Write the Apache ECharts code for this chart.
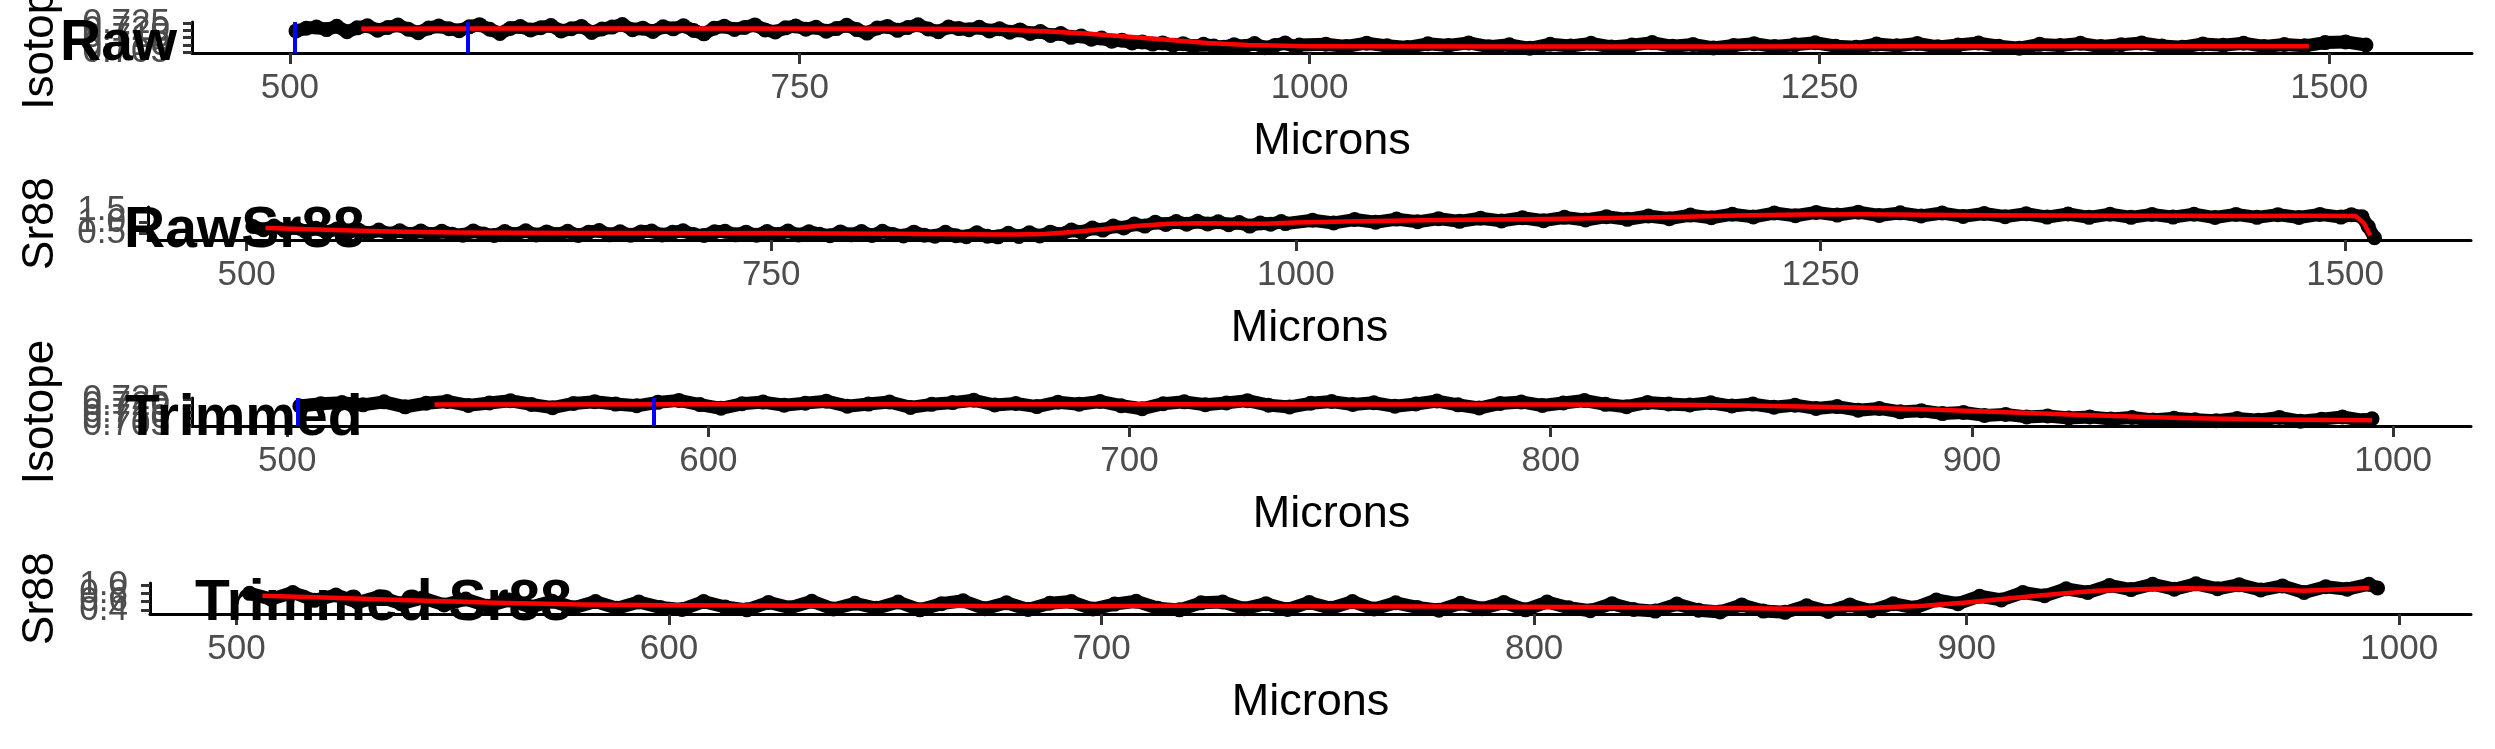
<!DOCTYPE html>
<html><head><meta charset="utf-8">
<script src="https://cdn.jsdelivr.net/npm/echarts@6/dist/echarts.min.js"></script>
<style>html,body{margin:0;padding:0;background:#fff}#c{width:2495px;height:749px}</style>
</head><body><div id="c"></div>
<script>
// ---------- DATA ----------
const isoMicrons = [
503,508,513,518,523,528,533,538,543,548,
553,558,563,568,573,578,583,588,593,598,
603,608,613,618,623,628,633,638,643,648,
653,658,663,668,673,678,683,688,693,698,
703,708,713,718,723,728,733,738,743,748,
753,758,763,768,773,778,783,788,793,798,
803,808,813,818,823,828,833,838,843,848,
853,858,863,868,873,878,883,888,893,898,
903,908,913,918,923,928,933,938,943,948,
953,958,963,968,973,978,983,988,993,995,
1008,1018,1028,1038,1048,1058,1068,1078,1088,1098,
1108,1118,1128,1138,1148,1158,1168,1178,1188,1198,
1208,1218,1228,1238,1248,1258,1268,1278,1288,1298,
1308,1318,1328,1338,1348,1358,1368,1378,1388,1398,
1408,1418,1428,1438,1448,1458,1468,1478,1488,1498,
1508,1518];
const isoValues = [
0.7196,0.7214,0.7222,0.7205,0.7228,0.7190,0.7217,0.7231,0.7201,0.7219,
0.7236,0.7208,0.7184,0.7216,0.7229,0.7211,0.7198,0.7224,0.7239,0.7207,
0.7179,0.7213,0.7226,0.7202,0.7218,0.7233,0.7195,0.7211,0.7227,0.7186,
0.7209,0.7222,0.7240,0.7204,0.7215,0.7192,0.7225,0.7210,0.7231,0.7199,
0.7176,0.7214,0.7228,0.7206,0.7220,0.7237,0.7203,0.7189,0.7217,0.7230,
0.7208,0.7221,0.7194,0.7212,0.7234,0.7205,0.7181,0.7216,0.7227,0.7200,
0.7219,0.7238,0.7209,0.7191,0.7223,0.7212,0.7204,0.7221,0.7196,0.7211,
0.7187,0.7203,0.7178,0.7192,0.7165,0.7178,0.7152,0.7161,0.7139,0.7147,
0.7125,0.7133,0.7114,0.7121,0.7106,0.7114,0.7098,0.7109,0.7090,0.7104,
0.7093,0.7085,0.7102,0.7089,0.7110,0.7081,0.7097,0.7113,0.7087,0.7100,
0.7105,0.7090,0.7112,0.7094,0.7083,0.7108,0.7096,0.7114,0.7088,0.7101,
0.7077,0.7105,0.7093,0.7111,0.7086,0.7099,0.7116,0.7091,0.7103,0.7080,
0.7097,0.7109,0.7089,0.7102,0.7115,0.7092,0.7084,0.7106,0.7095,0.7110,
0.7087,0.7100,0.7113,0.7091,0.7078,0.7104,0.7096,0.7111,0.7089,0.7102,
0.7114,0.7093,0.7085,0.7107,0.7098,0.7112,0.7090,0.7103,0.7094,0.7116,
0.7121,0.7100];

const srMicrons = [
503,508,513,518,523,528,533,538,543,548,
553,558,563,568,573,578,583,588,593,598,
603,608,613,618,623,628,633,638,643,648,
653,658,663,668,673,678,683,688,693,698,
703,708,713,718,723,728,733,738,743,748,
753,758,763,768,773,778,783,788,793,798,
803,808,813,818,823,828,833,838,843,848,
853,858,863,868,873,878,883,888,893,898,
903,908,913,918,923,928,933,938,943,948,
953,958,963,968,973,978,983,988,993,995,
1008,1018,1028,1038,1048,1058,1068,1078,1088,1098,
1108,1118,1128,1138,1148,1158,1168,1178,1188,1198,
1208,1218,1228,1238,1248,1258,1268,1278,1288,1298,
1308,1318,1328,1338,1348,1358,1368,1378,1388,1398,
1408,1418,1428,1438,1448,1458,1468,1478,1488,1498,
1503,1508,1511,1514];
const srValues = [
0.80,0.66,0.82,0.63,0.76,0.58,0.72,0.55,0.69,0.52,
0.66,0.49,0.64,0.47,0.61,0.45,0.60,0.44,0.59,0.46,
0.41,0.60,0.47,0.40,0.58,0.45,0.61,0.42,0.56,0.44,
0.59,0.40,0.55,0.62,0.43,0.57,0.41,0.56,0.60,0.42,
0.54,0.61,0.44,0.40,0.57,0.59,0.43,0.55,0.41,0.58,
0.44,0.60,0.42,0.57,0.46,0.39,0.56,0.43,0.58,0.40,
0.59,0.45,0.38,0.55,0.41,0.37,0.54,0.39,0.35,0.52,
0.37,0.34,0.50,0.36,0.52,0.38,0.55,0.45,0.64,0.55,
0.73,0.64,0.82,0.74,0.91,0.82,0.99,0.89,1.02,0.90,
1.03,0.91,1.01,0.88,0.98,0.82,0.96,0.90,1.02,0.93,
1.08,0.96,1.11,0.99,1.13,1.01,1.15,1.03,1.17,1.05,
1.19,1.06,1.21,1.09,1.24,1.12,1.27,1.15,1.31,1.19,
1.35,1.23,1.40,1.28,1.43,1.31,1.44,1.29,1.41,1.27,
1.40,1.25,1.38,1.24,1.37,1.22,1.36,1.21,1.35,1.21,
1.34,1.22,1.35,1.20,1.34,1.21,1.33,1.20,1.34,1.22,
1.33,1.24,0.80,0.30];

// smoothed (red) lines
const isoRawSmoothX = [535,600,700,800,830,850,870,890,910,930,950,970,1000,1100,1200,1300,1400,1490];
const isoRawSmoothY = [0.7211,0.7212,0.7212,0.7211,0.7209,0.7204,0.7194,0.7178,0.7158,0.7135,0.7113,0.7099,0.7092,0.7090,0.7090,0.7091,0.7091,0.7092];
const isoTrimSmoothX = [535,600,700,800,830,850,870,890,910,930,950,970,995];
const isoTrimSmoothY = [0.7208,0.7209,0.7210,0.7208,0.7205,0.7199,0.7187,0.7169,0.7147,0.7124,0.7105,0.7094,0.7089];
const srRawSmoothX = [509,530,550,575,600,630,660,690,720,750,780,810,840,865,880,895,910,925,940,955,970,985,1000,1030,1060,1090,1120,1150,1180,1210,1240,1270,1300,1330,1360,1390,1420,1450,1480,1505,1509,1512];
const srRawSmoothY = [0.74,0.68,0.62,0.57,0.53,0.52,0.51,0.51,0.50,0.51,0.49,0.48,0.46,0.44,0.47,0.57,0.70,0.83,0.92,0.95,0.93,0.92,0.98,1.04,1.08,1.11,1.14,1.18,1.23,1.29,1.34,1.35,1.32,1.30,1.29,1.28,1.28,1.27,1.28,1.27,0.95,0.40];
const srTrimSmoothX = [506,520,540,560,580,600,630,660,690,720,750,780,810,840,860,875,890,900,910,920,930,940,950,960,970,978,985,993];
const srTrimSmoothY = [0.74,0.70,0.63,0.57,0.53,0.51,0.50,0.50,0.49,0.50,0.49,0.48,0.47,0.45,0.43,0.44,0.50,0.58,0.68,0.78,0.86,0.90,0.92,0.91,0.90,0.86,0.89,0.93];

const trimLimit = 996;
const windowMarks = [502.5, 587];

const rawXTicks = [500,750,1000,1250,1500];
const trimXTicks = [500,600,700,800,900,1000];
const isoYTicks = [0.705,0.710,0.715,0.720,0.725];
const srRawYTicks = [0.5,1.0,1.5];
const srTrimYTicks = [0.4,0.6,0.8,1.0];

const titles = ['Raw','RawSr88','Trimmed','Trimmed Sr88'];
const yTitles = ['Isotope','Sr88','Isotope','Sr88'];
const xTitle = 'Microns';

// ---------- BUILD ----------
const zip = (a,b) => a.map((v,i)=>[v,b[i]]);
const isoAll = zip(isoMicrons, isoValues);
const srAll = zip(srMicrons, srValues);
const isoTrim = isoAll.filter(p=>p[0]<=trimLimit);
const srTrim = srAll.filter(p=>p[0]<=trimLimit);

const FONT = '"Liberation Sans", Arial, Helvetica, sans-serif';
const panels = [
  {left:192, top:22, width:2280, height:31, xmin:452, xmax:1570, ymin:0.7045, ymax:0.7257, xt:rawXTicks, yt:isoYTicks, dec:3, pts:isoAll, red:zip(isoRawSmoothX,isoRawSmoothY), blue:true},
  {left:148, top:207, width:2323, height:33, xmin:453, xmax:1560, ymin:0.2, ymax:1.67, xt:rawXTicks, yt:srRawYTicks, dec:1, pts:srAll, red:zip(srRawSmoothX,srRawSmoothY), blue:false},
  {left:192, top:398, width:2279, height:28, xmin:477.4, xmax:1018.5, ymin:0.7045, ymax:0.7257, xt:trimXTicks, yt:isoYTicks, dec:3, pts:isoTrim, red:zip(isoTrimSmoothX,isoTrimSmoothY), blue:true},
  {left:150, top:583, width:2321, height:31, xmin:480, xmax:1016.6, ymin:0.30, ymax:1.05, xt:trimXTicks, yt:srTrimYTicks, dec:1, pts:srTrim, red:zip(srTrimSmoothX,srTrimSmoothY), blue:false}
];
// title anchor: left x, vertical centre of the em box
const titlePos = [[60,44],[124,231],[125,419],[195,604]];

const grid=[], xAxis=[], yAxis=[], series=[], graphic=[];
const labelCommon = {fontSize:35, color:'#4D4D4D', fontFamily:FONT, hideOverlap:false, showMinLabel:true, showMaxLabel:true};
panels.forEach((p,i)=>{
  grid.push({left:p.left, top:p.top, width:p.width, height:p.height, containLabel:false, outerBoundsMode:'none'});
  xAxis.push({type:'value', gridIndex:i, position:'bottom', min:p.xmin, max:p.xmax,
    axisLine:{show:true, onZero:false, lineStyle:{color:'#000', width:3}},
    axisTick:{show:true, customValues:p.xt, length:11, lineStyle:{color:'#333', width:3}},
    axisLabel:Object.assign({customValues:p.xt, margin:18, formatter:v=>String(v)}, labelCommon),
    splitLine:{show:false}});
  // main y axis: the axis line only
  const yIdx = yAxis.length;
  yAxis.push({type:'value', gridIndex:i, position:'left', offset:0, min:p.ymin, max:p.ymax,
    axisLine:{show:true, onZero:false, lineStyle:{color:'#000', width:3}},
    axisTick:{show:false}, axisLabel:{show:false}, splitLine:{show:false}});
  // one companion axis per tick so that ggplot-style overlapping labels are all kept
  p.yt.forEach(v=>{
    yAxis.push({type:'value', gridIndex:i, position:'left', offset:0, min:p.ymin, max:p.ymax,
      axisLine:{show:false, onZero:false},
      axisTick:{show:true, customValues:[v], length:9, lineStyle:{color:'#333', width:3}},
      axisLabel:Object.assign({customValues:[v], margin:22, formatter:t=>Number(t).toFixed(p.dec)}, labelCommon),
      splitLine:{show:false}});
  });
  series.push({type:'line', xAxisIndex:i, yAxisIndex:yIdx, data:p.pts, symbol:'circle', symbolSize:15, showAllSymbol:true,
    itemStyle:{color:'#000'}, lineStyle:{color:'#000', width:13, cap:'round', join:'round'}, z:2, silent:true, animation:false});
  series.push({type:'line', xAxisIndex:i, yAxisIndex:yIdx, data:p.red, symbol:'none',
    lineStyle:{color:'#FF0000', width:4.5, join:'round'}, z:3, silent:true, animation:false});
  if(p.blue){
    series.push({type:'line', xAxisIndex:i, yAxisIndex:yIdx, data:[], z:4, silent:true, animation:false,
      markLine:{symbol:['none','none'], silent:true, animation:false, label:{show:false},
        lineStyle:{color:'#0000FF', width:4, type:'solid'}, emphasis:{disabled:true},
        data:windowMarks.map(v=>({xAxis:v}))}});
  }
  graphic.push({type:'text', x:titlePos[i][0], y:titlePos[i][1], z:1, silent:true,
    style:{text:titles[i], font:'bold 57px '+FONT, fill:'#000', align:'left', verticalAlign:'middle'}});
  graphic.push({type:'text', x:41, y:p.top+p.height/2, rotation:Math.PI/2, z:1, silent:true,
    style:{text:yTitles[i], font:'44px '+FONT, fill:'#000', align:'center', verticalAlign:'middle'}});
  graphic.push({type:'text', x:p.left+p.width/2, y:p.top+p.height+89, z:1, silent:true,
    style:{text:xTitle, font:'45px '+FONT, fill:'#000', align:'center', verticalAlign:'middle'}});
});

const chart = echarts.init(document.getElementById('c'), null, {renderer:'canvas'});
chart.setOption({backgroundColor:'#fff', animation:false, grid, xAxis, yAxis, series, graphic});
</script></body></html>
